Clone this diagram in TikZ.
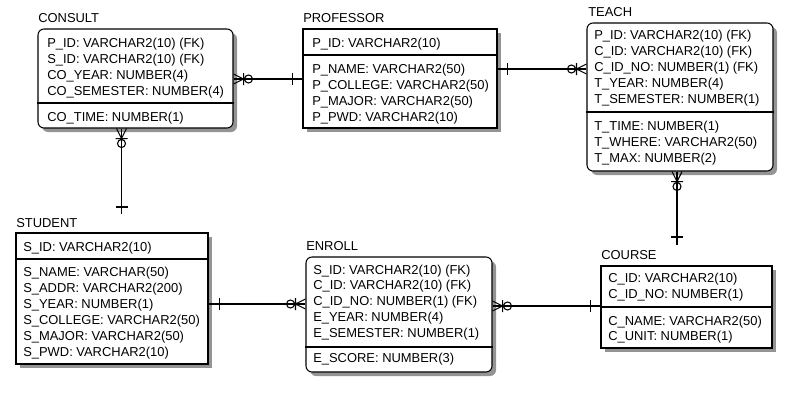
\documentclass[tikz,border=0pt]{standalone}
\usepackage{fontspec}
\setmainfont{Liberation Sans}
\usetikzlibrary{fit,shadows}
\begin{document}
\begin{tikzpicture}[x=0.75pt,y=-0.75pt,
  ent/.style={draw, line width=0.8pt, inner sep=0pt, fill=white,
    drop shadow={shadow xshift=3pt, shadow yshift=-3pt, fill=black!42, opacity=1}},
  rnd/.style={rounded corners=4.5pt},
  row/.style={anchor=west, inner sep=0pt, text height=6.9pt, text depth=0pt,
    font=\fontsize{9.7}{12}\selectfont},
  ttl/.style={row},
  conn/.style={line width=0.8pt},
  pics/zom/.style={code={\draw[conn] (0,-5) -- (10,0) -- (0,5) (10,-6) -- (10,6) (15,0) circle (4);}},
  pics/onebar/.style={code={\draw[conn] (#1,-6) -- (#1,6);}}
]
\useasboundingbox (0,0) rectangle (799,400);

% ---------- boxes ----------
\node[ent,rnd,fit={(38,29) (233,128)}] (consult) {};
\node[ent,fit={(303,29) (497,128)}] (professor) {};
\node[ent,rnd,fit={(587,23) (773,171)}] (teach) {};
\node[ent,fit={(16,233) (208,364)}] (student) {};
\node[ent,rnd,fit={(306,257) (492,372)}] (enroll) {};
\node[ent,fit={(601,266) (772,348)}] (course) {};

% dividers
\draw[conn] (consult.west |- 0,103) -- (consult.east |- 0,103);
\draw[conn] (professor.west |- 0,55) -- (professor.east |- 0,55);
\draw[conn] (teach.west |- 0,112) -- (teach.east |- 0,112);
\draw[conn] (student.west |- 0,259) -- (student.east |- 0,259);
\draw[conn] (enroll.west |- 0,347) -- (enroll.east |- 0,347);
\draw[conn] (course.west |- 0,307) -- (course.east |- 0,307);

% ---------- titles ----------
\node[ttl] (tconsult) at (38,18) {CONSULT};
\node[ttl] (tprofessor) at (303,18) {PROFESSOR};
\node[ttl] (tteach) at (588,12) {TEACH};
\node[ttl] (tstudent) at (16,223) {STUDENT};
\node[ttl] (tenroll) at (306,246) {ENROLL};
\node[ttl] (tcourse) at (601,255) {COURSE};

% ---------- CONSULT ----------
\node[row] (c1) at (47,43) {P\_ID: VARCHAR2(10) (FK)};
\node[row] (c2) at (47,59) {S\_ID: VARCHAR2(10) (FK)};
\node[row] (c3) at (47,75) {CO\_YEAR: NUMBER(4)};
\node[row] (c4) at (47,91) {CO\_SEMESTER: NUMBER(4)};
\node[row] (c5) at (47,117) {CO\_TIME: NUMBER(1)};

% ---------- PROFESSOR ----------
\node[row] (p1) at (312,43) {P\_ID: VARCHAR2(10)};
\node[row] (p2) at (312,69) {P\_NAME: VARCHAR2(50)};
\node[row] (p3) at (312,85) {P\_COLLEGE: VARCHAR2(50)};
\node[row] (p4) at (312,101) {P\_MAJOR: VARCHAR2(50)};
\node[row] (p5) at (312,117) {P\_PWD: VARCHAR2(10)};

% ---------- TEACH ----------
\node[row] (t1) at (594,35) {P\_ID: VARCHAR2(10) (FK)};
\node[row] (t2) at (594,51) {C\_ID: VARCHAR2(10) (FK)};
\node[row] (t3) at (594,67) {C\_ID\_NO: NUMBER(1) (FK)};
\node[row] (t4) at (594,83) {T\_YEAR: NUMBER(4)};
\node[row] (t5) at (594,99) {T\_SEMESTER: NUMBER(1)};
\node[row] (t6) at (594,126) {T\_TIME: NUMBER(1)};
\node[row] (t7) at (594,142) {T\_WHERE: VARCHAR2(50)};
\node[row] (t8) at (594,158) {T\_MAX: NUMBER(2)};

% ---------- STUDENT ----------
\node[row] (s1) at (23,247) {S\_ID: VARCHAR2(10)};
\node[row] (s2) at (23,272) {S\_NAME: VARCHAR(50)};
\node[row] (s3) at (23,288) {S\_ADDR: VARCHAR2(200)};
\node[row] (s4) at (23,304) {S\_YEAR: NUMBER(1)};
\node[row] (s5) at (23,320) {S\_COLLEGE: VARCHAR2(50)};
\node[row] (s6) at (23,336) {S\_MAJOR: VARCHAR2(50)};
\node[row] (s7) at (23,352) {S\_PWD: VARCHAR2(10)};

% ---------- ENROLL ----------
\node[row] (e1) at (313,270) {S\_ID: VARCHAR2(10) (FK)};
\node[row] (e2) at (313,285) {C\_ID: VARCHAR2(10) (FK)};
\node[row] (e3) at (313,301) {C\_ID\_NO: NUMBER(1) (FK)};
\node[row] (e4) at (313,317) {E\_YEAR: NUMBER(4)};
\node[row] (e5) at (313,333) {E\_SEMESTER: NUMBER(1)};
\node[row] (e6) at (313,358) {E\_SCORE: NUMBER(3)};

% ---------- COURSE ----------
\node[row] (k1) at (608,278) {C\_ID: VARCHAR2(10)};
\node[row] (k2) at (608,294) {C\_ID\_NO: NUMBER(1)};
\node[row] (k3) at (608,321) {C\_NAME: VARCHAR2(50)};
\node[row] (k4) at (608,336) {C\_UNIT: NUMBER(1)};

% ---------- connectors ----------
% CONSULT -- PROFESSOR
\draw[conn] (consult.east |- 0,79) -- (professor.west |- 0,79);
\pic at (consult.east |- 0,79) {zom};
\pic[rotate=180] at (professor.west |- 0,79) {onebar=10};

% PROFESSOR -- TEACH
\draw[conn] (professor.east |- 0,69) -- (teach.west |- 0,69);
\pic at (professor.east |- 0,69) {onebar=10};
\pic[rotate=180] at (teach.west |- 0,69) {zom};

% CONSULT -- STUDENT
\coordinate (stjoin) at (121.5,214);
\draw[conn] (consult.south -| stjoin) -- (stjoin);
\pic[rotate=-90] at (consult.south -| stjoin) {zom};
\pic[rotate=-90] at (stjoin) {onebar=-7};

% TEACH -- COURSE
\coordinate (cojoin) at (677,245);
\draw[conn] (teach.south -| cojoin) -- (cojoin);
\pic[rotate=-90] at (teach.south -| cojoin) {zom};
\pic[rotate=-90] at (cojoin) {onebar=-8};

% STUDENT -- ENROLL
\draw[conn] (student.east |- 0,304) -- (enroll.west |- 0,304);
\pic at (student.east |- 0,304) {onebar=11};
\pic[rotate=180] at (enroll.west |- 0,304) {zom};

% ENROLL -- COURSE
\draw[conn] (enroll.east |- 0,306) -- (course.west |- 0,306);
\pic at (enroll.east |- 0,306) {zom};
\pic[rotate=180] at (course.west |- 0,306) {onebar=10};
\end{tikzpicture}
\end{document}
